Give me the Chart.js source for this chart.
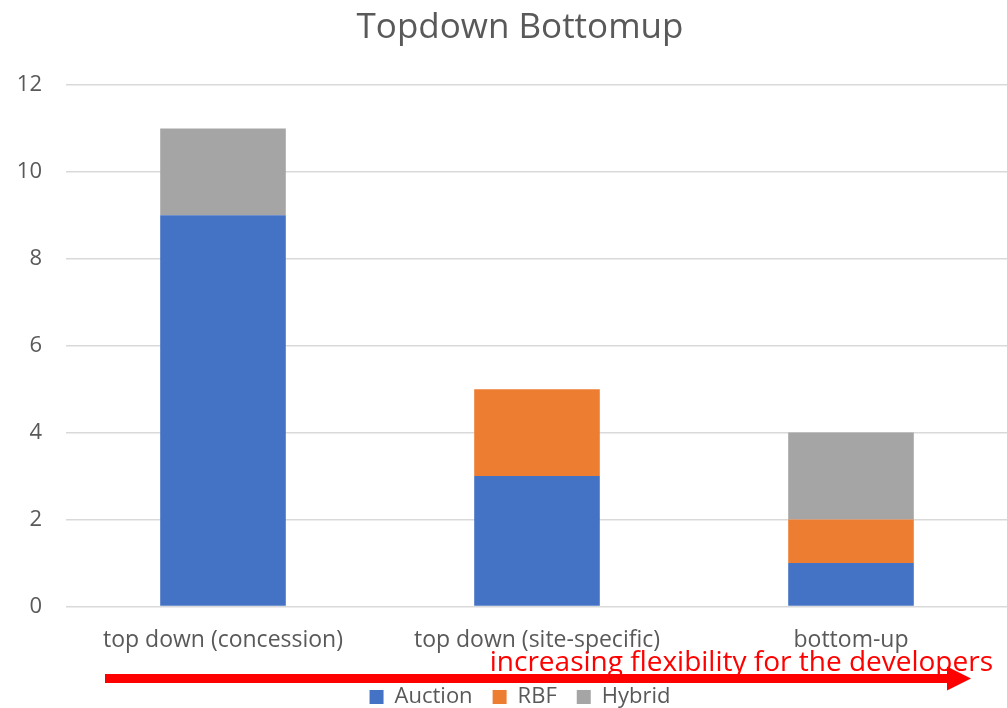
<!DOCTYPE html>
<html>
<head>
<meta charset="utf-8">
<script src="https://cdn.jsdelivr.net/npm/chart.js@4"></script>
<style>
  html, body { margin: 0; padding: 0; background: #fff; overflow: hidden; }
  .wrap { width: 1007px; height: 708px; overflow: hidden; }
  .box { width: 1012px; height: 718px; }
</style>
</head>
<body>
<div class="wrap"><div class="box"><canvas id="myChart"></canvas></div></div>
<script>
const categories = ["top down (concession)", "top down (site-specific)", "bottom-up"];
const auction = [9, 3, 1];
const rbf = [0, 2, 1];
const hybrid = [2, 0, 2];
const arrowText = "increasing flexibility for the developers";

const fontName = "'Open Sans', sans-serif";
const grey = "#595959";

// red arrow + caption between the x labels and the legend
const arrowPlugin = {
  id: "arrow",
  afterLayout(chart) {
    // title and legend sit a bit right of the canvas centre in the original
    chart.titleBlock.left += 32;
    chart.legend.left += 32;
  },
  afterDraw(chart) {
    const c = chart.ctx;
    const y = 678.5;
    c.save();
    c.fillStyle = "#ff0000";
    c.fillRect(105, y - 4.5, 845, 9);
    c.beginPath();
    c.moveTo(971, y);
    c.lineTo(947, y - 12);
    c.lineTo(947, y + 12);
    c.closePath();
    c.fill();
    c.font = "28px " + fontName;
    c.textAlign = "right";
    c.textBaseline = "alphabetic";
    c.fillText(arrowText, 993, 671);
    c.restore();
  },
};

const ctx = document.getElementById("myChart");
new Chart(ctx, {
  type: "bar",
  data: {
    labels: categories,
    datasets: [
      { label: "Auction", data: auction, backgroundColor: "#4472C4" },
      { label: "RBF", data: rbf, backgroundColor: "#ED7D31" },
      { label: "Hybrid", data: hybrid, backgroundColor: "#A5A5A5" },
    ],
  },
  options: {
    responsive: true,
    maintainAspectRatio: false,
    animation: false,
    barPercentage: 0.5,
    categoryPercentage: 0.8,
    layout: { padding: { left: 0, right: 4, top: 0, bottom: 0 } },
    plugins: {
      title: {
        display: true,
        text: "Topdown Bottomup",
        color: grey,
        font: { family: fontName, size: 35, weight: "normal" },
        padding: { top: 7, bottom: 36 },
      },
      legend: {
        position: "bottom",
        labels: {
          color: grey,
          font: { family: fontName, size: 22 },
          boxWidth: 14,
          boxHeight: 14,
          padding: 20,
        },
      },
      tooltip: { enabled: false },
    },
    scales: {
      x: {
        stacked: true,
        grid: { display: false },
        border: { display: false },
        ticks: { color: grey, font: { family: fontName, size: 23 }, padding: 12 },
      },
      y: {
        stacked: true,
        min: 0,
        max: 12,
        ticks: { stepSize: 2, color: grey, font: { family: fontName, size: 22 }, padding: 24 },
        grid: { color: "#d9d9d9", lineWidth: 1.5, drawTicks: false },
        border: { display: false },
        afterFit(scale) { scale.width = 66; },
      },
    },
  },
  plugins: [arrowPlugin],
});
</script>
</body>
</html>
